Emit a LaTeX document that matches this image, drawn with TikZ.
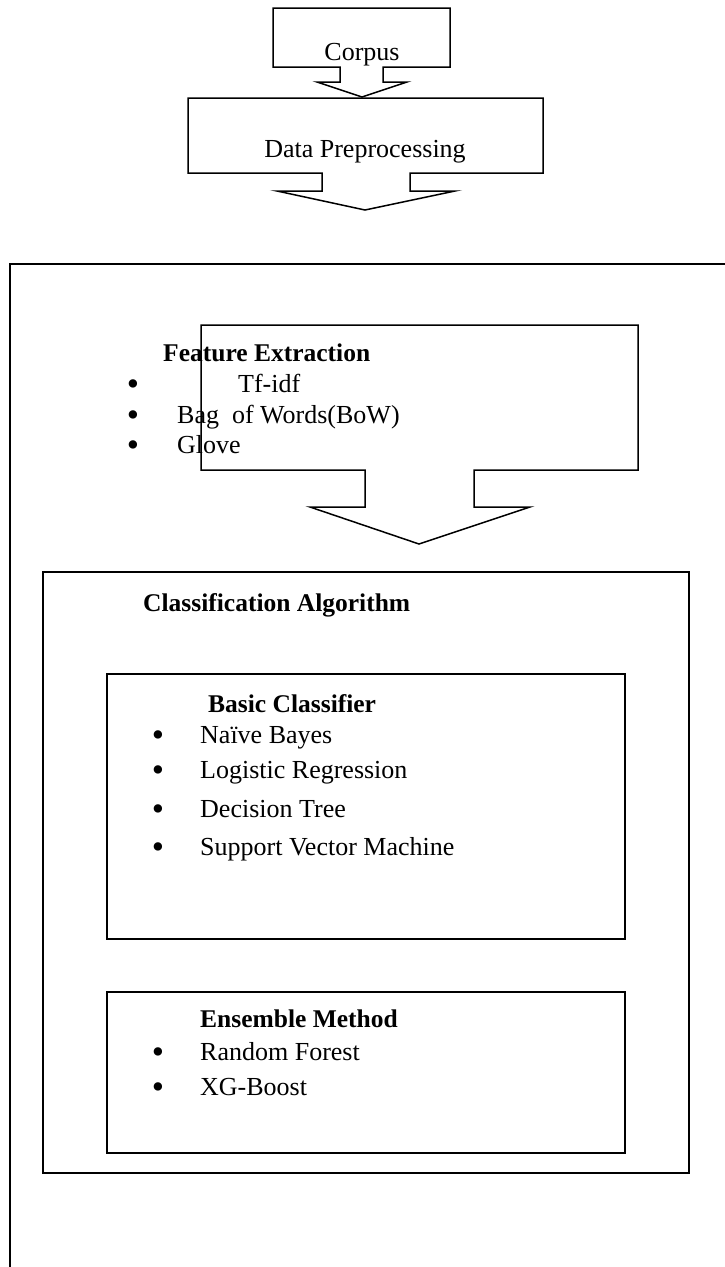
\documentclass[tikz,border=0pt]{standalone}
\usepackage{fontspec}
\setmainfont{Liberation Serif}
\begin{document}
\begin{tikzpicture}[x=1pt, y=-1pt, line join=miter,
			arrowbox/.style={draw, line width=1.5pt},
			algobox/.style={draw, line width=2pt},
			txt/.style={anchor=base west, inner sep=0pt, font=\fontsize{26}{30}\selectfont},
			hd/.style={txt, font=\fontsize{25.5}{30}\selectfont\bfseries},
			dot/.style={anchor=base, inner sep=0pt, text height=12pt, text depth=0pt, yshift=-3.5pt, font=\fontsize{35}{36}\selectfont},
			ctr/.style={anchor=base, inner sep=0pt, font=\fontsize{26}{30}\selectfont}]
			
			\useasboundingbox (0,0) rectangle (724,1267);
			
			% block arrows
			\draw[arrowbox] (273,8) -- (450,8) -- (450,67) -- (383,67) -- (383,82) -- (407,82) -- (362,97)
				-- (317,82) -- (340,82) -- (340,67) -- (273,67) -- cycle;
			\draw[arrowbox] (188,98) -- (543,98) -- (543,173) -- (410,173) -- (410,191) -- (455,191) -- (365,210)
				-- (277,191) -- (322,191) -- (322,173) -- (188,173) -- cycle;
			\draw[arrowbox] (201,325) -- (638,325) -- (638,470) -- (474,470) -- (474,507) -- (530,507) -- (419,544)
				-- (310,507) -- (365,507) -- (365,470) -- (201,470) -- cycle;
			
			% outer frame, cut by the page
			\draw[arrowbox] (10,1275) -- (10,264) -- (735,264);
			
			% classification boxes
			\draw[algobox] (43,572) rectangle (689,1173);
			\draw[algobox] (107,674) rectangle (625,939);
			\draw[algobox] (107,992) rectangle (625,1153);
			
			\node[ctr] (corpus) at (362,60) {Corpus};
			\node[ctr] (prep) at (365,157) {Data Preprocessing};
			
			\node[hd] (feat) at (163,361) {Feature Extraction};
			\node[dot] (f1) at (133,392) {•};
			\node[dot] (f2) at (133,423) {•};
			\node[dot] (f3) at (133,453) {•};
			\node[txt] (tfidf) at (238,392) {Tf-idf};
			\node[txt] (bow) at (177,423) {Bag\ \ of Words(BoW)};
			\node[txt] (glove) at (177,453) {Glove};
			
			\node[hd] (algo) at (143,611) {Classification Algorithm};
			
			\node[hd] (basic) at (208,712) {Basic Classifier};
			\node[dot] (b1) at (158,743) {•};
			\node[dot] (b2) at (158,778) {•};
			\node[dot] (b3) at (158,817) {•};
			\node[dot] (b4) at (158,855) {•};
			\node[txt] (nb) at (200,743) {Naïve Bayes};
			\node[txt] (lr) at (200,778) {Logistic Regression};
			\node[txt] (dt) at (200,817) {Decision Tree};
			\node[txt] (svm) at (200,855) {Support Vector Machine};
			
			\node[hd] (ens) at (200,1027) {Ensemble Method};
			\node[dot] (e1) at (158,1060) {•};
			\node[dot] (e2) at (158,1095) {•};
			\node[txt] (rf) at (200,1060) {Random Forest};
			\node[txt] (xgb) at (200,1095) {XG-Boost};
			
		\end{tikzpicture}
\end{document}
